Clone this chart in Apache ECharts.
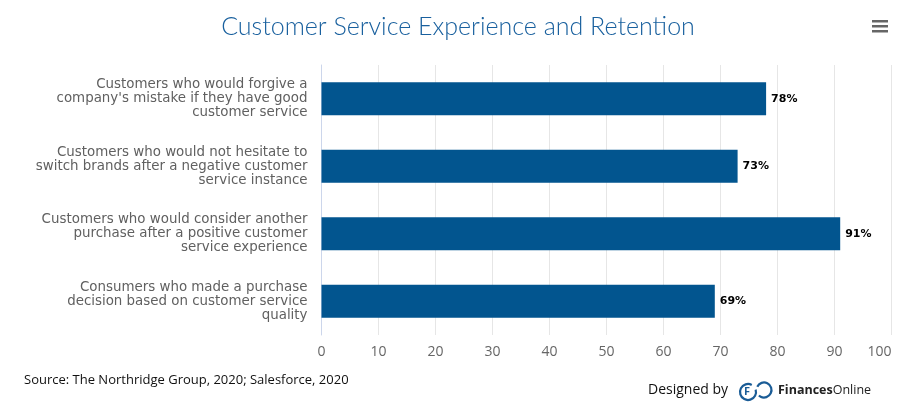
<!DOCTYPE html>
<html><head><meta charset="utf-8">
<script src="https://cdn.jsdelivr.net/npm/echarts@6/dist/echarts.min.js"></script>
<style>html,body{margin:0;padding:0;background:#fff}#c{width:916px;height:410px}</style>
</head><body><div id="c"></div>
<script>
const categories = [
  "Customers who would forgive a\ncompany's mistake if they have good\ncustomer service",
  "Customers who would not hesitate to\nswitch brands after a negative customer\nservice instance",
  "Customers who would consider another\npurchase after a positive customer\nservice experience",
  "Consumers who made a purchase\ndecision based on customer service\nquality"
];
const values = [78, 73, 91, 69];
const xTicks = [0, 10, 20, 30, 40, 50, 60, 70, 80, 90, 100];

const chart = echarts.init(document.getElementById('c'));
chart.setOption({
  animation: false,
  title: {
    text: 'Customer Service Experience and Retention',
    left: 'center', top: 9,
    textStyle: {fontFamily: 'Lato', fontWeight: 300, fontSize: 25, color: '#19609e'}
  },
  grid: {left: 321.5, right: 24.5, top: 65, bottom: 75, containLabel: false},
  xAxis: {
    type: 'value', min: xTicks[0], max: xTicks[xTicks.length-1], interval: 10,
    axisLine: {show: false}, axisTick: {show: false},
    axisLabel: {color: '#666', fontFamily: 'Open Sans', fontSize: 14, margin: 10, alignMaxLabel: 'right'},
    splitLine: {lineStyle: {color: '#e6e6e6', width: 1}}
  },
  yAxis: {
    type: 'category', data: categories, inverse: true,
    axisLine: {show: true, lineStyle: {color: '#ccd6eb', width: 1}}, axisTick: {show: false},
    axisLabel: {color: '#606060', fontFamily: 'DejaVu Sans', fontSize: 13.4, lineHeight: 14, margin: 14, align: 'right'}
  },
  series: [{
    type: 'bar', data: values, barWidth: 33,
    itemStyle: {color: '#02558f'},
    label: {show: true, position: 'right', distance: 5, formatter: '{c}%',
      color: '#000', fontFamily: 'DejaVu Sans', fontWeight: 'bold', fontSize: 11,
      textBorderColor: '#fff', textBorderWidth: 1}
  }],
  graphic: [
    {type: 'text', left: 24, top: 374, style: {text: 'Source: The Northridge Group, 2020; Salesforce, 2020', font: '13px "Open Sans"', fill: '#111'}},
    {type: 'text', left: 648, top: 383, style: {text: 'Designed by', font: '14px "Open Sans"', fill: '#111'}},
    {type: 'arc', shape: {cx: 748, cy: 392, r: 8, startAngle: -0.3, endAngle: 5.2}, style: {fill: 'none', stroke: '#1a5c96', lineWidth: 2.2}},
    {type: 'arc', shape: {cx: 764, cy: 390, r: 7.5, startAngle: 3.6, endAngle: 8.6}, style: {fill: 'none', stroke: '#1a5c96', lineWidth: 2.2}},
    {type: 'text', left: 744, top: 386, style: {text: 'F', font: 'bold 11px "Open Sans"', fill: '#1a5c96'}},
    {type: 'text', left: 778, top: 384, style: {text: '{b|Finances}{n|Online}', rich: {b: {font: 'bold 12.5px "Open Sans"', fill: '#222'}, n: {font: '12.5px "Open Sans"', fill: '#222'}}}},
    {type: 'rect', shape: {x: 872, y: 20, width: 16, height: 2.5}, style: {fill: '#666'}},
    {type: 'rect', shape: {x: 872, y: 25, width: 16, height: 2.5}, style: {fill: '#666'}},
    {type: 'rect', shape: {x: 872, y: 30, width: 16, height: 2.5}, style: {fill: '#666'}}
  ]
});
</script></body></html>
